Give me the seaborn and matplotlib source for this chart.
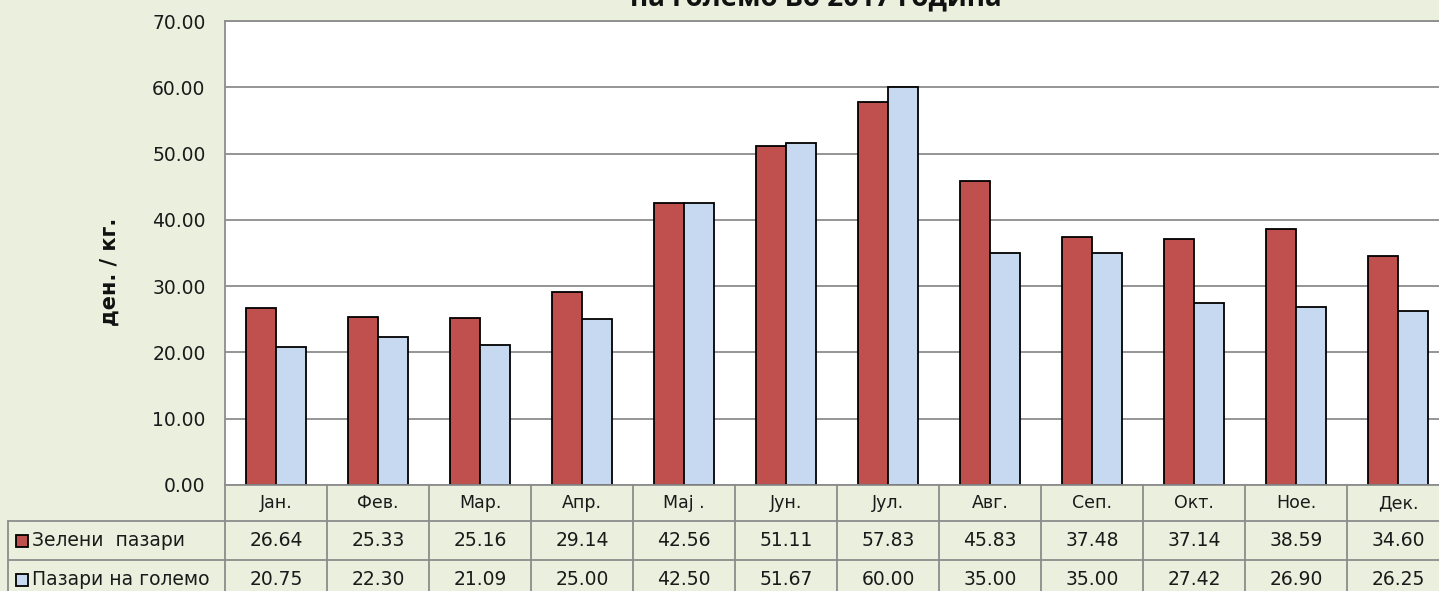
import matplotlib
matplotlib.use("Agg")
import matplotlib.pyplot as plt
import matplotlib.transforms as mtransforms
from matplotlib.patches import Rectangle
import seaborn as sns
import pandas as pd

months = ["Јан.", "Фев.", "Мар.", "Апр.", "Мај .", "Јун.", "Јул.", "Авг.", "Сеп.", "Окт.", "Ное.", "Дек."]
series_names = ["Зелени  пазари", "Пазари на големо"]
green_markets = [26.64, 25.33, 25.16, 29.14, 42.56, 51.11, 57.83, 45.83, 37.48, 37.14, 38.59, 34.60]
wholesale_markets = [20.75, 22.30, 21.09, 25.00, 42.50, 51.67, 60.00, 35.00, 35.00, 27.42, 26.90, 26.25]
title_text = "на големо во 2017 година"
ylabel_text = "ден. / кг."
yticks = [0, 10, 20, 30, 40, 50, 60, 70]

bg = "#EBEFDE"
red = "#C0504D"
blue = "#C6D9F1"
grid_c = "#8C8C8C"

df = pd.DataFrame({
    "month": months * 2,
    "series": [series_names[0]] * 12 + [series_names[1]] * 12,
    "value": green_markets + wholesale_markets,
})

sns.set_theme(style="white")
plt.rcParams["font.family"] = ["DejaVu Sans"]

W, H = 1439, 591
fig = plt.figure(figsize=(W / 100, H / 100), dpi=100, facecolor=bg)
left_px, right_px, top_px, bot_px = 225, 1449, 21, 485
ax = fig.add_axes([left_px / W, 1 - bot_px / H, (right_px - left_px) / W, (bot_px - top_px) / H])
ax.set_facecolor("white")

sns.barplot(data=df, x="month", y="value", hue="series", order=months,
            hue_order=series_names, palette=[red, blue], width=0.58,
            edgecolor="black", linewidth=1.3, ax=ax, legend=False, saturation=1)

ax.set_xlim(-0.5, 11.5)
ax.set_ylim(0, 70)
ax.set_yticks(yticks)
ax.set_yticklabels([f"{v:.2f}" for v in yticks], fontsize=13.5, color="#1a1a1a")
ax.tick_params(axis="y", length=0, pad=14)
ax.set_xticks([])
ax.set_xlabel("")
ax.set_ylabel("")
ax.yaxis.grid(True, color=grid_c, linewidth=1.3)
ax.set_axisbelow(True)
for s in ["left", "top"]:
    ax.spines[s].set_color(grid_c)
    ax.spines[s].set_linewidth(1.3)
ax.spines["right"].set_visible(False)
ax.spines["bottom"].set_visible(False)

# Y axis title
fig.text(110 / W, 1 - 272 / H, ylabel_text, rotation=90, ha="center", va="center",
         fontsize=15, fontweight="bold", family="DejaVu Sans", color="#111111")

# Title (partially cut off at the top of the image, as in the reference)
fig.text(816 / W, 1 + 2 / H, title_text, ha="center", va="center",
         fontsize=20, fontweight="bold", family="Open Sans", color="#111111")

# Data table below the axis
tr = mtransforms.blended_transform_factory(ax.transData, ax.transAxes)
px = 1.0 / (bot_px - top_px)
y_head = -(521 - 485) * px
y_r1 = -(560 - 485) * px
y_r2 = -(599 - 485) * px
lbl_left = (8 - left_px) / (right_px - left_px)
lc = "#8C8C8C"
lw = 1.3

ax.plot([-0.5, 11.5], [0, 0], transform=tr, color=lc, lw=lw, clip_on=False)
for yy in [y_head, y_r1, y_r2]:
    ax.plot([lbl_left, 1.0], [yy, yy], transform=ax.transAxes, color=lc, lw=lw, clip_on=False)
for i in range(13):
    ax.plot([i - 0.5, i - 0.5], [0, y_r2], transform=tr, color=lc, lw=lw, clip_on=False)
ax.plot([lbl_left, lbl_left], [y_head, y_r2], transform=ax.transAxes, color=lc, lw=lw, clip_on=False)

fs_tab = 13.5
txt_c = "#1a1a1a"
for i, m in enumerate(months):
    ax.text(i, y_head / 2, m, transform=tr, ha="center", va="center", fontsize=12.5, color=txt_c, clip_on=False)
    ax.text(i, (y_head + y_r1) / 2, f"{green_markets[i]:.2f}", transform=tr, ha="center", va="center",
            fontsize=fs_tab, color=txt_c, clip_on=False)
    ax.text(i, (y_r1 + y_r2) / 2, f"{wholesale_markets[i]:.2f}", transform=tr, ha="center", va="center",
            fontsize=fs_tab, color=txt_c, clip_on=False)

key_w = 12 / (right_px - left_px)
key_h = 12 * px
for (yc, name, col) in [((y_head + y_r1) / 2, series_names[0], red), ((y_r1 + y_r2) / 2, series_names[1], blue)]:
    kx = (16 - left_px) / (right_px - left_px)
    ax.add_patch(Rectangle((kx, yc - key_h / 2), key_w, key_h, transform=ax.transAxes,
                           facecolor=col, edgecolor="black", lw=1.3, clip_on=False))
    ax.text((32 - left_px) / (right_px - left_px), yc, name, transform=ax.transAxes,
            ha="left", va="center", fontsize=13.5, color=txt_c, clip_on=False)

fig.savefig("out.png", dpi=100, facecolor=bg)
